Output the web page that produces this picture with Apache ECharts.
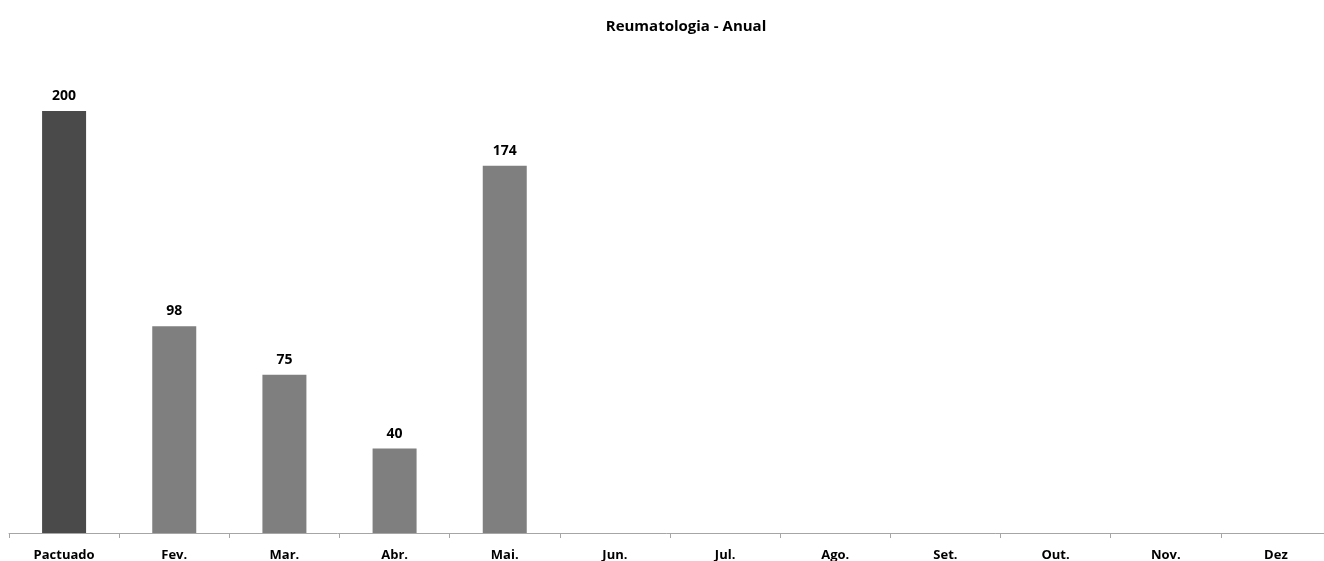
<!DOCTYPE html>
<html>
<head>
<meta charset="utf-8">
<script src="https://cdn.jsdelivr.net/npm/echarts@6/dist/echarts.min.js"></script>
<style>html,body{margin:0;padding:0;background:#fff;}#c{width:1324px;height:561px;}</style>
</head>
<body>
<div id="c"></div>
<script>
const categories = ['Pactuado','Fev.','Mar.','Abr.','Mai.','Jun.','Jul.','Ago.','Set.','Out.','Nov.','Dez'];
const values = [200, 98, 75, 40, 174, null, null, null, null, null, null, null];
const barColors = ['#4a4a4a','#7f7f7f','#7f7f7f','#7f7f7f','#7f7f7f','#7f7f7f','#7f7f7f','#7f7f7f','#7f7f7f','#7f7f7f','#7f7f7f','#7f7f7f'];
const titleText = 'Reumatologia - Anual';

const chart = echarts.init(document.getElementById('c'), null, {renderer:'canvas'});
chart.setOption({
  animation: false,
  title: {
    text: titleText, left: 681, top: 14, textAlign: 'center',
    textStyle: {fontFamily: 'Open Sans', fontWeight: 'bold', fontSize: 15, color: '#000'}
  },
  grid: {left: 9, top: 111, width: 1322, height: 422, containLabel: false, outerBoundsMode: 'none'},
  xAxis: {
    type: 'category', data: categories,
    axisLine: {lineStyle: {color: '#a6a6a6', width: 1}},
    axisTick: {show: true, length: 5, lineStyle: {color: '#a6a6a6'}},
    axisLabel: {fontFamily: 'Open Sans', fontWeight: 'bold', fontSize: 13, color: '#000', margin: 16, interval: 0}
  },
  yAxis: {type: 'value', min: 0, max: 200, show: false, splitLine: {show: false}},
  series: [{
    type: 'bar', barWidth: 44,
    data: values.map((v, i) => ({value: v, itemStyle: {color: barColors[i]}})),
    label: {show: true, position: 'top', distance: 8, fontFamily: 'Open Sans', fontWeight: 'bold', fontSize: 14, color: '#000'}
  }]
});
</script>
</body>
</html>
